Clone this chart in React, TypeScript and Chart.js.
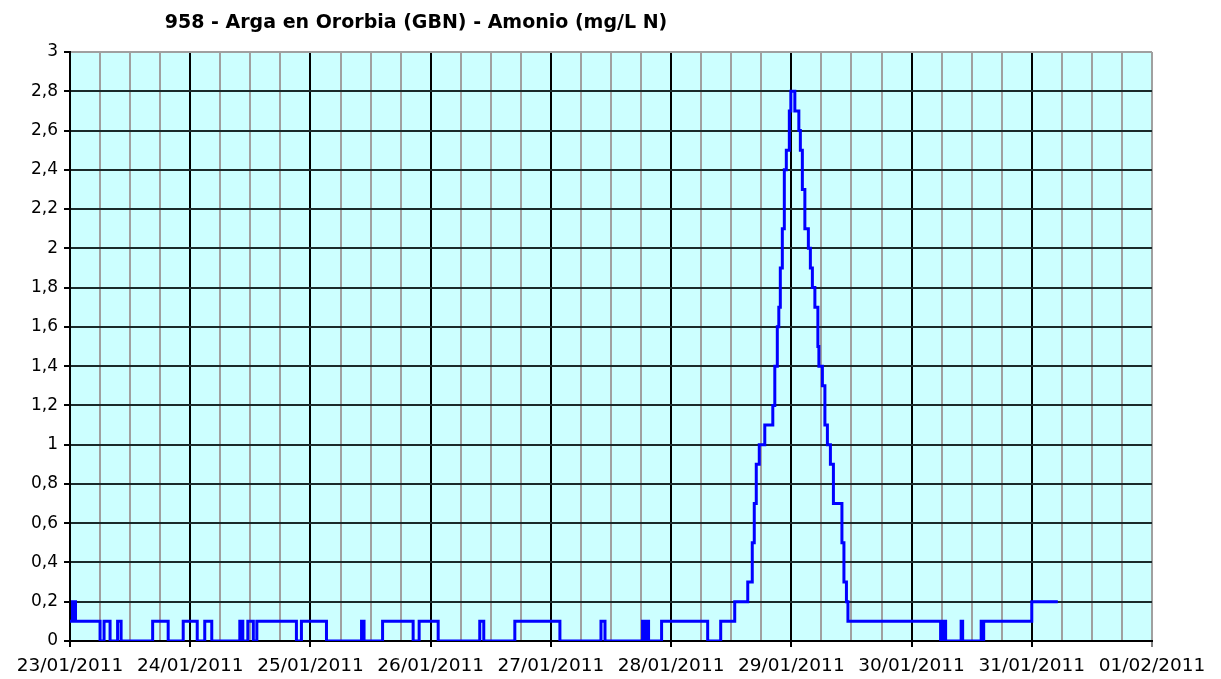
import React, { useEffect, useRef } from "react";
import { Chart, registerables } from "chart.js";

Chart.register(...registerables);

const TITLE = "958 - Arga en Ororbia (GBN) - Amonio (mg/L N)";
const DAY_LABELS = ["23/01/2011", "24/01/2011", "25/01/2011", "26/01/2011", "27/01/2011", "28/01/2011", "29/01/2011", "30/01/2011", "31/01/2011", "01/02/2011"];

// hours since 23/01/2011 00:00 at which the reading changes
const HOURS = [
  0, 0.5, 0.7, 0.9, 1.1, 6.0, 6.8, 8.0, 9.5, 10.2, 16.5, 19.6, 22.6, 25.4, 26.9, 28.3,
  33.9, 34.5, 35.5, 36.6, 37.3, 45.2, 46.2, 51.2, 58.2, 58.7, 62.4, 68.5, 69.7, 73.5,
  81.8, 82.6, 88.8, 97.8, 106.0, 106.8, 114.3, 114.6, 115.0, 115.5, 118.1, 127.3, 129.9,
  132.7, 135.3, 136.2, 136.6, 137.0, 137.6, 138.7, 140.3, 140.7, 141.2, 141.5, 141.8,
  142.2, 142.6, 143.0, 143.6, 143.9, 144.7, 145.5, 145.8, 146.2, 146.7, 147.4, 147.8,
  148.2, 148.7, 149.3, 149.5, 150.2, 150.7, 151.2, 151.8, 152.4, 154.1, 154.5, 155.0,
  155.3, 173.8, 174.1, 174.3, 174.6, 174.8, 177.9, 178.2, 181.9, 182.1, 182.4, 192.0, 197.2,
];
// ammonium (mg/L N) from that hour on
const VALUES = [
  0.1, 0.2, 0.1, 0.2, 0.1, 0, 0.1, 0, 0.1, 0, 0.1, 0, 0.1, 0, 0.1, 0,
  0.1, 0, 0.1, 0, 0.1, 0, 0.1, 0, 0.1, 0, 0.1, 0, 0.1, 0,
  0.1, 0, 0.1, 0, 0.1, 0, 0.1, 0, 0.1, 0, 0.1, 0, 0.1,
  0.2, 0.3, 0.5, 0.7, 0.9, 1.0, 1.1, 1.2, 1.4, 1.6, 1.7, 1.9,
  2.1, 2.4, 2.5, 2.7, 2.8, 2.7, 2.6, 2.5, 2.3, 2.1, 2.0, 1.9,
  1.8, 1.7, 1.5, 1.4, 1.3, 1.1, 1.0, 0.9, 0.7, 0.5, 0.3, 0.2,
  0.1, 0, 0.1, 0, 0.1, 0, 0.1, 0, 0.1, 0, 0.1, 0.2, 0.2,
];

const Y_MIN = 0;
const Y_MAX = 3;
const Y_STEP = 0.2;
const X_MAX_HOURS = 216;
const X_STEP_HOURS = 6;

const FONT = "'DejaVu Sans', Verdana, sans-serif";

export default function App() {
  const ref = useRef<HTMLCanvasElement | null>(null);

  useEffect(() => {
    document.body.style.margin = "0";
    const canvas = ref.current;
    if (!canvas) return;
    const points = HOURS.map((h, i) => ({ x: h, y: VALUES[i] }));

    const bgPlugin = {
      id: "plotBg",
      beforeDraw(chart: any) {
        const { ctx, chartArea } = chart;
        ctx.save();
        ctx.fillStyle = "#ccffff";
        ctx.fillRect(chartArea.left, chartArea.top, chartArea.right - chartArea.left, chartArea.bottom - chartArea.top);
        ctx.restore();
      },
      afterDraw(chart: any) {
        const { ctx, chartArea } = chart;
        ctx.save();
        ctx.fillStyle = "#000";
        ctx.font = `bold 19px ${FONT}`;
        ctx.textAlign = "center";
        ctx.textBaseline = "middle";
        ctx.fillText(TITLE, chartArea.left + 346, 23);
        ctx.restore();
      },
    };

    const chart = new Chart(canvas, {
      type: "line",
      data: {
        datasets: [
          {
            data: points,
            borderColor: "#0000ff",
            borderWidth: 3,
            pointRadius: 0,
            stepped: true,
            fill: false,
            borderJoinStyle: "miter",
          },
        ],
      },
      options: {
        animation: false,
        responsive: false,
        devicePixelRatio: 1,
        layout: { padding: { left: 0, top: 52, right: 69, bottom: 0 } },
        plugins: { legend: { display: false }, tooltip: { enabled: false }, title: { display: false } },
        scales: {
          x: {
            type: "linear",
            min: 0,
            max: X_MAX_HOURS,
            afterFit(scale: any) {
              scale.height = 38;
            },
            afterBuildTicks(scale: any) {
              const t = [];
              for (let v = 0; v <= X_MAX_HOURS; v += X_STEP_HOURS) t.push({ value: v });
              scale.ticks = t;
            },
            ticks: {
              autoSkip: false,
              maxRotation: 0,
              padding: 8,
              color: "#000",
              font: { family: FONT, size: 18.5 },
              callback: (v: any) => (Number(v) % 24 === 0 ? DAY_LABELS[Number(v) / 24] : ""),
            },
            grid: {
              color: (c: any) => {
                const v = c.tick ? c.tick.value : 0;
                if (v === X_MAX_HOURS) return "#a0a0a0";
                return v % 24 === 0 ? "#000000" : "#a0a0a0";
              },
              lineWidth: 2,
              tickLength: 6,
              tickColor: (c: any) => {
                const v = c.tick ? c.tick.value : 0;
                return v % 24 === 0 ? (v === X_MAX_HOURS ? "#808080" : "#000") : "rgba(0,0,0,0)";
              },
            },
            border: { color: "#000", width: 2 },
          },
          y: {
            min: Y_MIN,
            max: Y_MAX,
            afterFit(scale: any) {
              scale.width = 70;
            },
            ticks: {
              stepSize: Y_STEP,
              padding: 6,
              color: "#000",
              font: { family: FONT, size: 17 },
              callback: (v: any) => String(Number(Number(v).toFixed(1))).replace(".", ","),
            },
            grid: {
              color: (c: any) => {
                const v = c.tick ? c.tick.value : 0;
                return Math.abs(v - Y_MAX) < 1e-6 ? "#a0a0a0" : "#1a2a2a";
              },
              lineWidth: 2,
              tickLength: 6,
              tickColor: "#000",
            },
            border: { color: "#000", width: 2 },
          },
        },
      },
      plugins: [bgPlugin],
    } as any);

    return () => chart.destroy();
  }, []);

  return (
    <div style={{ position: "absolute", left: 0, top: 0, width: 1221, height: 679, background: "#fff" }}>
      <canvas ref={ref} width={1221} height={679} style={{ width: 1221, height: 679, display: "block" }} />
    </div>
  );
}
